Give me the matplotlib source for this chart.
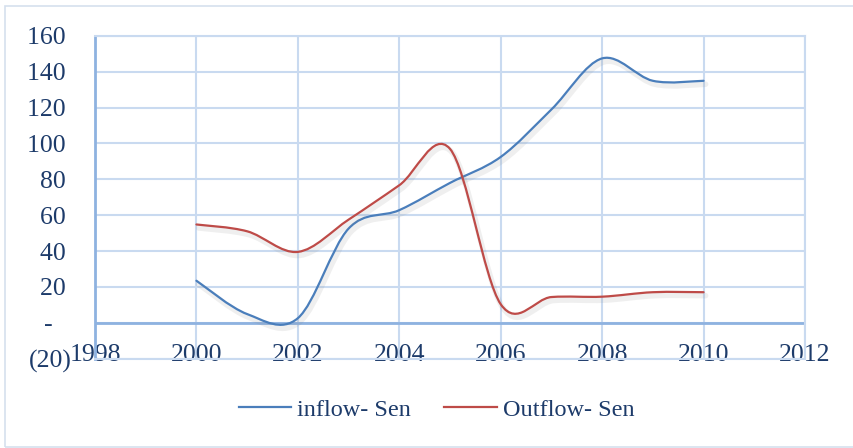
import matplotlib.pyplot as plt
import matplotlib.patheffects as pe
from matplotlib.path import Path
from matplotlib.patches import PathPatch, Rectangle
from matplotlib.lines import Line2D
from matplotlib.ticker import FuncFormatter

plt.rcParams['font.family'] = ['Liberation Serif', 'DejaVu Serif']

years = [2000, 2001, 2002, 2003, 2004, 2005, 2006, 2007, 2008, 2009, 2010]
inflow = [23.4, 4.8, 2.5, 52.5, 62.8, 78.0, 92.5, 119.0, 147.5, 135.0, 135.0]
outflow = [54.8, 51.0, 39.5, 57.5, 76.7, 97.0, 10.3, 14.3, 14.5, 17.0, 17.0]
series_names = ['inflow- Sen', 'Outflow- Sen']
series_colors = ['#4A7EBB', '#BE4B48']

text_color = '#1D3B6A'
grid_color = '#C9DAF0'
axis_color = '#8EB2E0'
fsize = 18.5


def smooth_path(xs, ys):
    # Excel style smoothed line: cubic bezier, control points at 1/6 of neighbour span
    pts = list(zip(xs, ys))
    n = len(pts)
    verts = [pts[0]]
    codes = [Path.MOVETO]
    for i in range(n - 1):
        p0 = pts[i - 1] if i > 0 else pts[i]
        p1 = pts[i]
        p2 = pts[i + 1]
        p3 = pts[i + 2] if i + 2 < n else pts[i + 1]
        c1 = (p1[0] + (p2[0] - p0[0]) / 6, p1[1] + (p2[1] - p0[1]) / 6)
        c2 = (p2[0] - (p3[0] - p1[0]) / 6, p2[1] - (p3[1] - p1[1]) / 6)
        verts += [c1, c2, p2]
        codes += [Path.CURVE4] * 3
    return Path(verts, codes)


fig = plt.figure(figsize=(8.54, 4.48), dpi=100)
# chart area border (right edge falls outside the picture)
fig.patches.append(Rectangle((5 / 854, 1.5 / 448), 860 / 854, 440 / 448, transform=fig.transFigure,
                             fill=False, edgecolor='#D5E0EE', linewidth=1.2))
ax = fig.add_axes([95 / 854, 1 - 358.5 / 448, 710 / 854, 322.5 / 448])

ax.set_xlim(1998, 2012)
ax.set_ylim(-20, 160)
ax.set_xticks(range(1998, 2013, 2))
ax.set_yticks(range(-20, 161, 20))
ax.grid(True, color=grid_color, linewidth=1.5)
ax.set_axisbelow(True)
for s in ['top', 'right', 'bottom']:
    ax.spines[s].set_color(grid_color)
    ax.spines[s].set_linewidth(1.5)
ax.spines['left'].set_color(axis_color)
ax.spines['left'].set_linewidth(2)
ax.axhline(0, color=axis_color, linewidth=2, zorder=1.5)


def yfmt(v, pos):
    if v < 0:
        return '(%d)' % -v
    if v == 0:
        return '-   '
    return '%d ' % v


ax.yaxis.set_major_formatter(FuncFormatter(yfmt))
ax.tick_params(axis='y', length=0, pad=16.5, labelsize=fsize, labelcolor=text_color)
ax.tick_params(axis='x', length=0, pad=-10.5, labelsize=fsize, labelcolor=text_color)

shadow = [pe.SimpleLineShadow(offset=(1.5, -2.5), shadow_color='#808080', alpha=0.12, linewidth=4),
          pe.Normal()]
handles = []
for vals, name, col in zip([inflow, outflow], series_names, series_colors):
    patch = PathPatch(smooth_path(years, vals), facecolor='none', edgecolor=col,
                      linewidth=1.6, zorder=3, capstyle='round')
    patch.set_path_effects(shadow)
    ax.add_patch(patch)
    handles.append(Line2D([], [], color=col, linewidth=1.6, label=name))

fig.legend(handles=handles, loc='center', bbox_to_anchor=(436.5 / 854, 1 - 410 / 448), ncol=2,
           frameon=False, fontsize=17.5, labelcolor=text_color, handlelength=2.17,
           handletextpad=0.25, columnspacing=1.35)

fig.savefig('out.png', dpi=100)
